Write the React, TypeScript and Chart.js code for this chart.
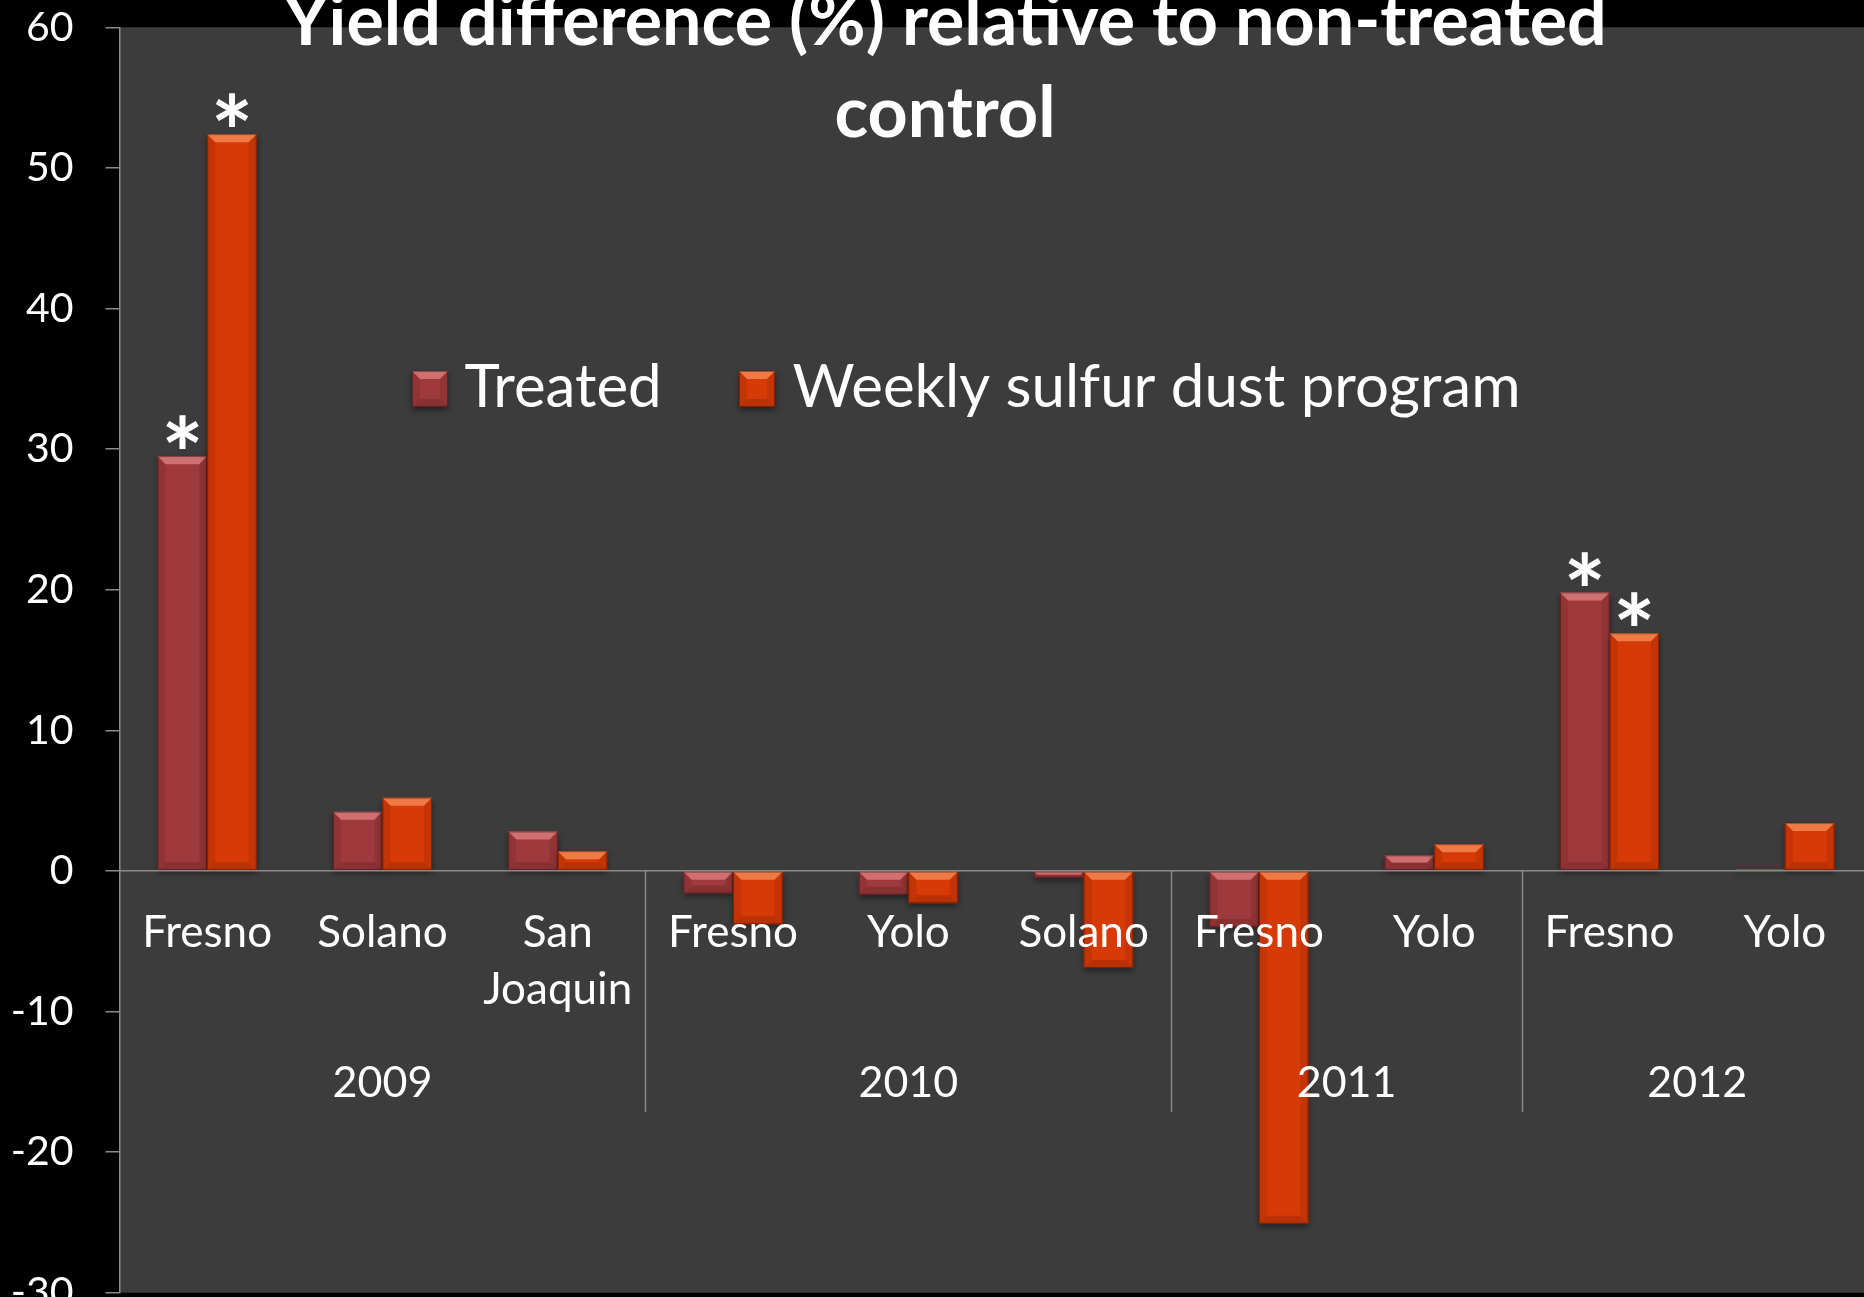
import React, { useEffect, useRef } from "react";
import { Chart, registerables } from "chart.js";

Chart.register(...registerables);

// ---------------- data ----------------
const siteLabels: string[][] = [
  ["Fresno"], ["Solano"], ["San", "Joaquin"],
  ["Fresno"], ["Yolo"], ["Solano"],
  ["Fresno"], ["Yolo"],
  ["Fresno"], ["Yolo"],
];
const years = ["2009", "2010", "2011", "2012"];
const sitesPerYear = [3, 3, 2, 2];

const seriesNames = ["Treated", "Weekly sulfur dust program"];
const treatedValues = [29.5, 4.2, 2.8, -1.6, -1.7, -0.5, -4.0, 1.1, 19.8, 0.1];
const sulfurValues = [52.4, 5.2, 1.4, -3.8, -2.3, -6.9, -25.1, 1.9, 16.9, 3.4];
const treatedSignificant = [true, false, false, false, false, false, false, false, true, false];
const sulfurSignificant = [true, false, false, false, false, false, false, false, true, false];

const yMin = -30;
const yMax = 60;
const yStep = 10;

const titleLines = ["Yield difference (%) relative to non-treated", "control"];

// ---------------- style ----------------
const FONT = "Lato, 'Open Sans', sans-serif";
const PLOT_BG = "#3c3c3c";
const AXIS_GRAY = "#8a8a8a";
const seriesColors = [
  { face: "#9e3a3c", light: "#cf6f70", dark: "#7a2a2c" },
  { face: "#d63a06", light: "#f07a45", dark: "#a52c04" },
];

function drawBevelRect(
  ctx: CanvasRenderingContext2D,
  left: number, top: number, right: number, bottom: number,
  col: { face: string; light: string; dark: string }
) {
  const w = right - left;
  const h = bottom - top;
  if (w <= 0 || h <= 0) return;
  const b = Math.max(0, Math.min(8, h / 2, w / 4));
  ctx.save();
  ctx.shadowColor = "rgba(0,0,0,0.45)";
  ctx.shadowBlur = 6;
  ctx.shadowOffsetY = 3;
  ctx.fillStyle = col.face;
  ctx.fillRect(left, top, w, h);
  ctx.restore();
  ctx.save();
  ctx.fillStyle = col.light;
  ctx.beginPath();
  ctx.moveTo(left, top);
  ctx.lineTo(right, top);
  ctx.lineTo(right - b, top + b);
  ctx.lineTo(left + b, top + b);
  ctx.closePath();
  ctx.fill();
  ctx.globalAlpha = 0.35;
  ctx.fillStyle = col.dark;
  ctx.beginPath();
  ctx.moveTo(left, top);
  ctx.lineTo(left + b, top + b);
  ctx.lineTo(left + b, bottom - b);
  ctx.lineTo(left, bottom);
  ctx.closePath();
  ctx.fill();
  ctx.beginPath();
  ctx.moveTo(right, top);
  ctx.lineTo(right - b, top + b);
  ctx.lineTo(right - b, bottom - b);
  ctx.lineTo(right, bottom);
  ctx.closePath();
  ctx.fill();
  ctx.globalAlpha = 0.6;
  ctx.beginPath();
  ctx.moveTo(left, bottom);
  ctx.lineTo(left + b, bottom - b);
  ctx.lineTo(right - b, bottom - b);
  ctx.lineTo(right, bottom);
  ctx.closePath();
  ctx.fill();
  ctx.globalAlpha = 1;
  ctx.strokeStyle = "rgba(0,0,0,0.35)";
  ctx.lineWidth = 1;
  ctx.strokeRect(left + 0.5, top + 0.5, w - 1, h - 1);
  ctx.restore();
}

const backgroundPlugin = {
  id: "bgPlugin",
  beforeDraw(chart: any) {
    const { ctx, chartArea } = chart;
    ctx.save();
    ctx.fillStyle = "#000";
    ctx.fillRect(0, 0, chart.width, chart.height);
    ctx.fillStyle = PLOT_BG;
    ctx.fillRect(chartArea.left, chartArea.top, chartArea.right - chartArea.left, chartArea.bottom - chartArea.top);
    ctx.restore();
  },
};

const decorPlugin = {
  id: "decorPlugin",
  afterDatasetsDraw(chart: any) {
    const { ctx } = chart;
    const yScale = chart.scales.y;
    const xScale = chart.scales.x;
    const zero = yScale.getPixelForValue(0);

    chart.data.datasets.forEach((ds: any, di: number) => {
      const meta = chart.getDatasetMeta(di);
      meta.data.forEach((el: any) => {
        const p = el.getProps(["x", "y", "base", "width"], true);
        const left = p.x - p.width / 2;
        const right = p.x + p.width / 2;
        const top = Math.min(p.y, p.base);
        const bottom = Math.max(p.y, p.base);
        drawBevelRect(ctx, left, top, right, Math.max(bottom, top + 1.5), seriesColors[di]);
      });
    });

    const flags = [treatedSignificant, sulfurSignificant];
    ctx.save();
    ctx.fillStyle = "#ffffff";
    ctx.textAlign = "center";
    ctx.textBaseline = "alphabetic";
    ctx.font = `bold 100px ${FONT}`;
    const m100 = ctx.measureText("*");
    const h100 = m100.actualBoundingBoxAscent + m100.actualBoundingBoxDescent;
    const size = (100 * 34) / (h100 || 34);
    ctx.font = `bold ${size}px ${FONT}`;
    const m = ctx.measureText("*");
    chart.data.datasets.forEach((ds: any, di: number) => {
      const meta = chart.getDatasetMeta(di);
      meta.data.forEach((el: any, i: number) => {
        if (!flags[di][i]) return;
        const p = el.getProps(["x", "y"], true);
        ctx.fillText("*", p.x, p.y - 7 - m.actualBoundingBoxDescent);
      });
    });
    ctx.restore();

    ctx.save();
    ctx.strokeStyle = AXIS_GRAY;
    ctx.lineWidth = 1.5;
    ctx.fillStyle = "#ffffff";
    ctx.font = `43px ${FONT}`;
    ctx.textAlign = "center";
    ctx.textBaseline = "middle";
    const half = (xScale.getPixelForValue(1) - xScale.getPixelForValue(0)) / 2;
    let start = 0;
    years.forEach((yr, gi) => {
      const n = sitesPerYear[gi];
      const x0 = xScale.getPixelForValue(start) - half;
      const x1 = xScale.getPixelForValue(start + n - 1) + half;
      ctx.fillText(yr, (x0 + x1) / 2, zero + 212);
      if (gi > 0) {
        ctx.beginPath();
        ctx.moveTo(Math.round(x0) + 0.5, zero);
        ctx.lineTo(Math.round(x0) + 0.5, zero + 241);
        ctx.stroke();
      }
      start += n;
    });
    ctx.restore();
  },
  afterDraw(chart: any) {
    const { ctx, chartArea } = chart;
    ctx.save();
    const L = chartArea.left;
    const boxXs = [L + 292.5, L + 619.5];
    const textXs = [L + 345, L + 673];
    ctx.font = `60px ${FONT}`;
    ctx.textAlign = "left";
    ctx.textBaseline = "alphabetic";
    seriesNames.forEach((name, i) => {
      drawBevelRect(ctx, boxXs[i], 371, boxXs[i] + 36, 407, seriesColors[i]);
      ctx.fillStyle = "#ffffff";
      ctx.fillText(name, textXs[i], 407);
    });
    ctx.restore();

    ctx.save();
    ctx.fillStyle = "#ffffff";
    ctx.font = `bold 70px ${FONT}`;
    ctx.textAlign = "center";
    ctx.textBaseline = "alphabetic";
    ctx.fillText(titleLines[0], 945, 45);
    ctx.fillText(titleLines[1], 945, 137);
    ctx.restore();
  },
};

export default function App() {
  const canvasRef = useRef<HTMLCanvasElement | null>(null);

  useEffect(() => {
    const canvas = canvasRef.current;
    if (!canvas) return;
    const chart = new Chart(canvas, {
      type: "bar",
      data: {
        labels: siteLabels,
        datasets: [
          { label: seriesNames[0], data: treatedValues, backgroundColor: seriesColors[0].face, borderWidth: 0 },
          { label: seriesNames[1], data: sulfurValues, backgroundColor: seriesColors[1].face, borderWidth: 0 },
        ],
      },
      options: {
        responsive: false,
        animation: false,
        devicePixelRatio: 1,
        layout: { padding: { top: 27.3, bottom: 4.3, left: 0, right: 7.5 } },
        datasets: {
          bar: { categoryPercentage: 0.565, barPercentage: 1 },
        },
        plugins: {
          legend: { display: false },
          title: { display: false },
          tooltip: { enabled: false },
        },
        scales: {
          x: {
            type: "category",
            position: { y: 0 } as any,
            offset: true,
            grid: { display: false, drawTicks: false },
            border: { display: true, color: AXIS_GRAY, width: 1.5, z: 1 },
            ticks: {
              z: 1,
              color: "#ffffff",
              font: { family: FONT, size: 44, lineHeight: 1.3 },
              padding: 33,
              maxRotation: 0,
              minRotation: 0,
              autoSkip: false,
            },
            afterFit: (s: any) => {
              s.paddingLeft = 0;
              s.paddingRight = 0;
              s.paddingTop = 0;
              s.paddingBottom = 0;
            },
          } as any,
          y: {
            min: yMin,
            max: yMax,
            grid: { display: true, drawOnChartArea: false, drawTicks: true, tickLength: 14, color: AXIS_GRAY, lineWidth: 1.5 },
            border: { display: true, color: AXIS_GRAY, width: 1.5 },
            ticks: {
              stepSize: yStep,
              color: "#ffffff",
              font: { family: FONT, size: 41 },
              padding: 32,
            },
            afterFit: (s: any) => {
              s.width = 119.5;
              s.paddingTop = 0;
              s.paddingBottom = 0;
              s.paddingLeft = 0;
              s.paddingRight = 0;
            },
          } as any,
        },
      },
      plugins: [backgroundPlugin, decorPlugin],
    });
    return () => chart.destroy();
  }, []);

  return (
    <div
      style={{
        position: "fixed",
        left: 0,
        top: 0,
        width: 1864,
        height: 1297,
        overflow: "hidden",
        background: "#000",
      }}
    >
      <canvas ref={canvasRef} width={1880} height={1297} style={{ width: 1880, height: 1297, display: "block" }} />
    </div>
  );
}
